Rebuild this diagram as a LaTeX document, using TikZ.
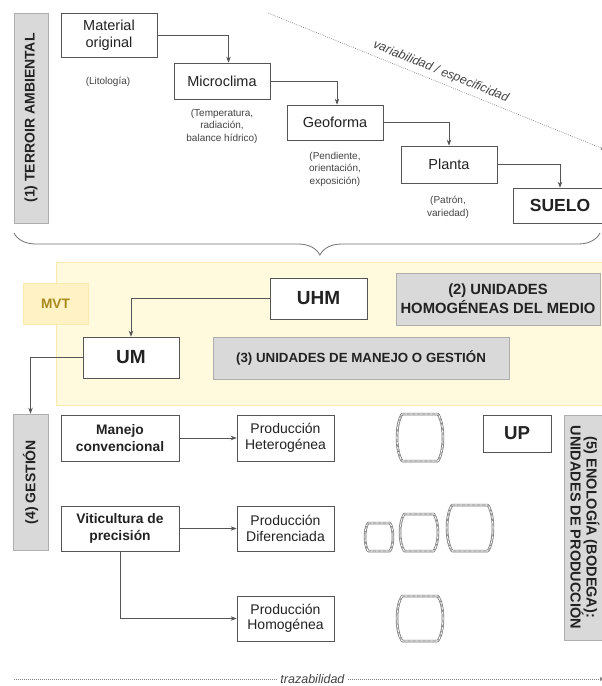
\documentclass[tikz,border=0pt]{standalone}
\usepackage{fontspec}
\setmainfont{Liberation Sans}
\usetikzlibrary{arrows.meta,decorations.pathreplacing,calc}
\definecolor{boxline}{HTML}{555555}
\definecolor{grayfill}{HTML}{D9D9D9}
\definecolor{graydraw}{HTML}{AEAEAE}
\definecolor{yelfill}{HTML}{FFF9DE}
\definecolor{yeldraw}{HTML}{FBEAB0}
\definecolor{mvtfill}{HTML}{FFF2C4}
\definecolor{mvttext}{HTML}{A8891E}
\definecolor{txt}{HTML}{222222}
\tikzset{
  wbox/.style={draw=boxline, line width=0.7pt, fill=white, align=center, inner sep=1pt, text=txt},
  gbox/.style={draw=graydraw, line width=0.6pt, fill=grayfill, align=center, inner sep=1pt, text=txt, font=\bfseries\fontsize{14}{16}\selectfont},
  note/.style={align=center, text=txt!85, font=\fontsize{10}{12.5}\selectfont},
  conn/.style={draw=boxline, line width=0.7pt},
  arr/.style={conn, -{Stealth[length=6pt,width=4.5pt]}},
  dotl/.style={draw=gray, line width=0.7pt, dash pattern=on 0.7pt off 1.3pt},
  barrelline/.style={draw=gray!90!black, line width=0.7pt, double=white, double distance=1.1pt},
  barreldash/.style={draw=gray!85, line width=0.7pt, dash pattern=on 3pt off 2pt}
}
\begin{document}
\begin{tikzpicture}[x=1pt,y=-1pt]
\useasboundingbox[fill=white] (0,0) rectangle (602,686);

% ---------- (1) TERROIR AMBIENTAL ----------
\node[gbox, rotate=90, minimum width=210, minimum height=34] (g1) at (31,118) {(1) TERROIR AMBIENTAL};

\node[wbox, minimum width=96, minimum height=44, font=\fontsize{14.5}{16.5}\selectfont] (mat) at (109,35) {Material\\original};
\node[wbox, minimum width=96, minimum height=36, font=\fontsize{14.5}{16}\selectfont] (mic) at (222,81) {Microclima};
\node[wbox, minimum width=96, minimum height=35, font=\fontsize{14.5}{16}\selectfont] (geo) at (335,122.5) {Geoforma};
\node[wbox, minimum width=96, minimum height=37, font=\fontsize{14.5}{16}\selectfont] (pla) at (449,164.5) {Planta};
\node[wbox, minimum width=94, minimum height=35, font=\bfseries\fontsize{17.5}{20}\selectfont] (sue) at (560,205.5) {SUELO};

\node[note] (n1) at (108,82) {(Litología)};
\node[note] (n2) at (222,126) {(Temperatura,\\radiación,\\balance hídrico)};
\node[note] (n3) at (335,169) {(Pendiente,\\orientación,\\exposición)};
\node[note] (n4) at (448,207.5) {(Patrón,\\variedad)};

\draw[arr] (mat.east) -| ([xshift=6.5]mic.north);
\draw[arr] (mic.east) -| ([xshift=2]geo.north);
\draw[arr] (geo.east) -| (pla.north);
\draw[arr] (pla.east) -| (sue.north);

% diagonal variability line
\coordinate (d1) at (268,13);
\coordinate (d2) at (606,150);
\draw[dotl, -{Latex[length=5pt,width=4pt]}] (d1) -- (d2)
  node[pos=0.5, sloped, above=1pt, font=\itshape\fontsize{12.4}{14}\selectfont, text=txt!85] {variabilidad / especificidad};

% brace
\coordinate (b1) at (14,233);
\coordinate (b2) at (600,233);
\draw[draw=gray!90!black, line width=0.8pt, decorate, decoration={brace, mirror, amplitude=22pt, aspect=0.522}] (b1) -- (b2);

% ---------- yellow region ----------
\fill[yelfill, draw=yeldraw, line width=0.8pt] (56,262) rectangle (612,405);
\node[draw=yeldraw, line width=0.8pt, fill=mvtfill, minimum width=65, minimum height=41, text=mvttext, font=\bfseries\fontsize{13.7}{15}\selectfont] (mvt) at (55.5,303.5) {MVT};

\node[wbox, minimum width=97, minimum height=41, font=\bfseries\fontsize{19}{21}\selectfont] (uhm) at (318.5,298.5) {UHM};
\node[gbox, minimum width=204, minimum height=52, font=\bfseries\fontsize{14.8}{19}\selectfont] (g2) at (498,299) {(2) UNIDADES\\HOMOGÉNEAS DEL MEDIO};
\node[wbox, minimum width=96, minimum height=41, font=\bfseries\fontsize{19}{21}\selectfont] (um) at (131,357.5) {UM};
\node[gbox, minimum width=296, minimum height=42, font=\bfseries\fontsize{13.3}{15}\selectfont] (g3) at (361,358) {(3) UNIDADES DE MANEJO O GESTIÓN};

\draw[arr] (uhm.west) -| (um.north);

% ---------- (4) GESTION ----------
\node[gbox, rotate=90, minimum width=136, minimum height=35] (g4) at (30.5,482) {(4) GESTIÓN};
\draw[arr] (um.west) -| (g4.east);

\node[wbox, minimum width=118, minimum height=46, font=\bfseries\fontsize{13.8}{17}\selectfont] (man) at (120,438) {Manejo\\convencional};
\node[wbox, minimum width=118, minimum height=45, font=\bfseries\fontsize{13.8}{17}\selectfont] (vit) at (120,528.5) {Viticultura de\\precisión};

\node[wbox, minimum width=97, minimum height=46, font=\fontsize{14}{15.5}\selectfont] (het) at (285.5,438) {Producción\\Heterogénea};
\node[wbox, minimum width=97, minimum height=45, font=\fontsize{14}{15.5}\selectfont] (dif) at (285.5,528.5) {Producción\\Diferenciada};
\node[wbox, minimum width=97, minimum height=45, font=\fontsize{14}{15.5}\selectfont] (hom) at (285.5,618.5) {Producción\\Homogénea};

\draw[arr] (man.east) -- (het.west);
\draw[arr] (vit.east) -- (dif.west);
\draw[arr] (vit.south) |- (hom.west);

% barrels
\foreach \xa/\ya/\xb/\yb in {397/414/443/461, 365/523/393/551, 400/514/438/551, 447/505/493/551, 397/596/443/641}{
  \pgfmathsetmacro{\c}{(\xb-\xa)*0.11}
  \pgfmathsetmacro{\k}{\c*0.33}
  \pgfmathsetmacro{\h}{(\yb-\ya)*0.22}
  \foreach \st in {barrelline, barreldash}{
    \draw[\st, line join=round]
      ({\xa+\c},\ya) -- ({\xb-\c},\ya)
      .. controls ({\xb+\k},{\ya+\h}) and ({\xb+\k},{\yb-\h}) .. ({\xb-\c},\yb)
      -- ({\xa+\c},\yb)
      .. controls ({\xa-\k},{\yb-\h}) and ({\xa-\k},{\ya+\h}) .. ({\xa+\c},\ya) -- cycle;
  }
}

\node[wbox, minimum width=68, minimum height=37, font=\bfseries\fontsize{18.7}{20}\selectfont] (up) at (517,433.5) {UP};

% ---------- (5) ENOLOGIA ----------
\node[gbox, rotate=-90, minimum width=225, minimum height=42, font=\bfseries\fontsize{14.5}{16}\selectfont] (g5) at (585,527.5) {(5) ENOLOGÍA (BODEGA):\\UNIDADES DE PRODUCCIÓN};

% trazabilidad
\coordinate (t1) at (14,679);
\coordinate (t2) at (605,679);
\draw[dotl, -{Latex[length=5pt,width=4pt]}] (t1) -- (t2)
  node[pos=0.505, fill=white, inner xsep=3pt, inner ysep=0.5pt, font=\itshape\fontsize{12.5}{13}\selectfont, text=txt!85] {trazabilidad};
\end{tikzpicture}
\end{document}
